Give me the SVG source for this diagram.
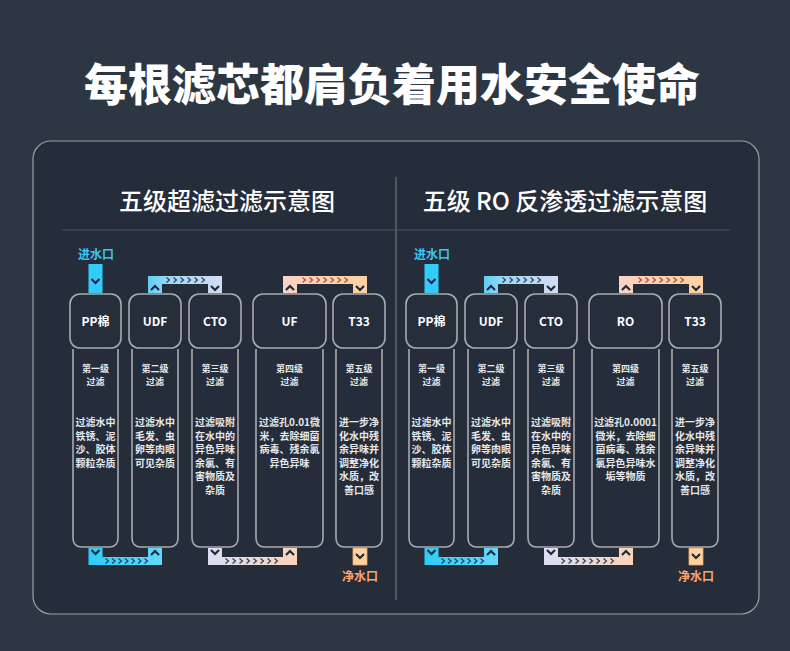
<svg xmlns="http://www.w3.org/2000/svg" width="790" height="651" viewBox="0 0 790 651">
<defs>
<style>
.t{font-family:"Noto Sans CJK SC","Noto Sans",sans-serif;fill:#ffffff;text-anchor:middle}
.title{font-size:44px;font-weight:900}
.sub{font-size:24px;font-weight:500}
.hd{font-size:12px;font-weight:700}
.lv{font-size:9px;font-weight:700;fill:#e6e8ec}
.ds{font-size:10px;font-weight:700;fill:#e6e8ec}
.head{fill:#252e3a;stroke:#a8abb0;stroke-width:1.6}
.body{fill:none;stroke:#a8abb0;stroke-width:1.6}
.chev{fill:none;stroke:#1f2b3d;stroke-width:2.2}
.bc{fill:none;stroke:#2a3558;stroke-width:1.1}
.rc{fill:none;stroke:#c0392b;stroke-width:1.1}
.in{font-family:"Noto Sans CJK SC",sans-serif;font-size:12px;font-weight:700;fill:#3cc6f5;text-anchor:middle}
.out{font-family:"Noto Sans CJK SC",sans-serif;font-size:12px;font-weight:700;fill:#ffa36b;text-anchor:middle}
</style>
<linearGradient id="gBlueLav" x1="0" x2="1" y1="0" y2="0"><stop offset="0" stop-color="#5fcdf7"/><stop offset="0.3" stop-color="#9fd9f7"/><stop offset="1" stop-color="#d6dcf1"/></linearGradient>
<linearGradient id="gPeach" x1="0" x2="1" y1="0" y2="0"><stop offset="0" stop-color="#fbd3c4"/><stop offset="1" stop-color="#fdd1a0"/></linearGradient>
<linearGradient id="gLavPeach" x1="0" x2="1" y1="0" y2="0"><stop offset="0" stop-color="#d9dff2"/><stop offset="1" stop-color="#fdd3b8"/></linearGradient>
<linearGradient id="gCyan" x1="0" x2="1" y1="0" y2="0"><stop offset="0" stop-color="#2ccdfb"/><stop offset="1" stop-color="#62d8fc"/></linearGradient>
<path id="dn" d="M-4,-2 L0,2 L4,-2"/>
<path id="up" d="M-4,2 L0,-2 L4,2"/>
<path id="ar" d="M-1.5,-2.5 L1.5,0 L-1.5,2.5"/>
</defs>
<rect width="790" height="651" fill="#2d3643"/>
<text class="t title" x="392" y="101">每根滤芯都肩负着用水安全使命</text>
<rect x="33" y="141" width="726" height="473" rx="18" fill="#242d39" stroke="#9aa0a8" stroke-width="1.2"/>
<line x1="396" y1="177" x2="396" y2="600" stroke="#7d838b" stroke-width="1"/>
<line x1="62" y1="230" x2="730" y2="230" stroke="#4e5762" stroke-width="1"/>
<text class="t sub" x="227" y="210">五级超滤过滤示意图</text>
<text class="t sub" x="565" y="210">五级 RO 反渗透过滤示意图</text>

<!-- LEFT NODES -->
<g id="l-pp"><path class="body" d="M73,349 V538 Q73,547 82,547 H109 Q118,547 118,538 V349"/><rect class="head" x="70" y="294" width="51" height="54" rx="10"/><text class="t hd" x="95.5" y="326">PP棉</text><text class="t lv" x="95.5" y="372">第一级</text><text class="t lv" x="95.5" y="385">过滤</text><text class="t ds" x="95.5" y="426">过滤水中</text><text class="t ds" x="95.5" y="439.5">铁锈、泥</text><text class="t ds" x="95.5" y="453">沙、胶体</text><text class="t ds" x="95.5" y="466.5">颗粒杂质</text></g>
<g id="l-udf"><path class="body" d="M132,349 V538 Q132,547 141,547 H169 Q178,547 178,538 V349"/><rect class="head" x="129" y="294" width="52" height="54" rx="10"/><text class="t hd" x="155" y="326">UDF</text><text class="t lv" x="155" y="372">第二级</text><text class="t lv" x="155" y="385">过滤</text><text class="t ds" x="155" y="426">过滤水中</text><text class="t ds" x="155" y="439.5">毛发、虫</text><text class="t ds" x="155" y="453">卵等肉眼</text><text class="t ds" x="155" y="466.5">可见杂质</text></g>
<g id="l-cto"><path class="body" d="M192,349 V538 Q192,547 201,547 H229 Q238,547 238,538 V349"/><rect class="head" x="189" y="294" width="52" height="54" rx="10"/><text class="t hd" x="215" y="326">CTO</text><text class="t lv" x="215" y="372">第三级</text><text class="t lv" x="215" y="385">过滤</text><text class="t ds" x="215" y="426">过滤吸附</text><text class="t ds" x="215" y="439.5">在水中的</text><text class="t ds" x="215" y="453">异色异味</text><text class="t ds" x="215" y="466.5">余氯、有</text><text class="t ds" x="215" y="480">害物质及</text><text class="t ds" x="215" y="493.5">杂质</text></g>
<g id="l-uf"><path class="body" d="M256,349 V538 Q256,547 265,547 H314 Q323,547 323,538 V349"/><rect class="head" x="253" y="294" width="73" height="54" rx="10"/><text class="t hd" x="289.5" y="326">UF</text><text class="t lv" x="289.5" y="372">第四级</text><text class="t lv" x="289.5" y="385">过滤</text><text class="t ds" x="289.5" y="426">过滤孔0.01微</text><text class="t ds" x="289.5" y="439.5">米，去除细菌</text><text class="t ds" x="289.5" y="453">病毒、残余氯</text><text class="t ds" x="289.5" y="466.5">异色异味</text></g>
<g id="l-t33"><path class="body" d="M336,349 V538 Q336,547 345,547 H373 Q382,547 382,538 V349"/><rect class="head" x="333" y="294" width="52" height="54" rx="10"/><text class="t hd" x="359" y="326">T33</text><text class="t lv" x="359" y="372">第五级</text><text class="t lv" x="359" y="385">过滤</text><text class="t ds" x="359" y="426">进一步净</text><text class="t ds" x="359" y="439.5">化水中残</text><text class="t ds" x="359" y="453">余异味并</text><text class="t ds" x="359" y="466.5">调整净化</text><text class="t ds" x="359" y="480">水质，改</text><text class="t ds" x="359" y="493.5">善口感</text></g>

<!-- RIGHT NODES -->
<g id="r-pp" transform="translate(336,0)"><path class="body" d="M73,349 V538 Q73,547 82,547 H109 Q118,547 118,538 V349"/><rect class="head" x="70" y="294" width="51" height="54" rx="10"/><text class="t hd" x="95.5" y="326">PP棉</text><text class="t lv" x="95.5" y="372">第一级</text><text class="t lv" x="95.5" y="385">过滤</text><text class="t ds" x="95.5" y="426">过滤水中</text><text class="t ds" x="95.5" y="439.5">铁锈、泥</text><text class="t ds" x="95.5" y="453">沙、胶体</text><text class="t ds" x="95.5" y="466.5">颗粒杂质</text></g>
<g id="r-udf" transform="translate(336,0)"><path class="body" d="M132,349 V538 Q132,547 141,547 H169 Q178,547 178,538 V349"/><rect class="head" x="129" y="294" width="52" height="54" rx="10"/><text class="t hd" x="155" y="326">UDF</text><text class="t lv" x="155" y="372">第二级</text><text class="t lv" x="155" y="385">过滤</text><text class="t ds" x="155" y="426">过滤水中</text><text class="t ds" x="155" y="439.5">毛发、虫</text><text class="t ds" x="155" y="453">卵等肉眼</text><text class="t ds" x="155" y="466.5">可见杂质</text></g>
<g id="r-cto" transform="translate(336,0)"><path class="body" d="M192,349 V538 Q192,547 201,547 H229 Q238,547 238,538 V349"/><rect class="head" x="189" y="294" width="52" height="54" rx="10"/><text class="t hd" x="215" y="326">CTO</text><text class="t lv" x="215" y="372">第三级</text><text class="t lv" x="215" y="385">过滤</text><text class="t ds" x="215" y="426">过滤吸附</text><text class="t ds" x="215" y="439.5">在水中的</text><text class="t ds" x="215" y="453">异色异味</text><text class="t ds" x="215" y="466.5">余氯、有</text><text class="t ds" x="215" y="480">害物质及</text><text class="t ds" x="215" y="493.5">杂质</text></g>
<g id="r-ro" transform="translate(336,0)"><path class="body" d="M256,349 V538 Q256,547 265,547 H314 Q323,547 323,538 V349"/><rect class="head" x="253" y="294" width="73" height="54" rx="10"/><text class="t hd" x="289.5" y="326">RO</text><text class="t lv" x="289.5" y="372">第四级</text><text class="t lv" x="289.5" y="385">过滤</text><text class="t ds" x="289.5" y="426">过滤孔0.0001</text><text class="t ds" x="289.5" y="439.5">微米，去除细</text><text class="t ds" x="289.5" y="453">菌病毒、残余</text><text class="t ds" x="289.5" y="466.5">氯异色异味水</text><text class="t ds" x="289.5" y="480">垢等物质</text></g>
<g id="r-t33" transform="translate(336,0)"><path class="body" d="M336,349 V538 Q336,547 345,547 H373 Q382,547 382,538 V349"/><rect class="head" x="333" y="294" width="52" height="54" rx="10"/><text class="t hd" x="359" y="326">T33</text><text class="t lv" x="359" y="372">第五级</text><text class="t lv" x="359" y="385">过滤</text><text class="t ds" x="359" y="426">进一步净</text><text class="t ds" x="359" y="439.5">化水中残</text><text class="t ds" x="359" y="453">余异味并</text><text class="t ds" x="359" y="466.5">调整净化</text><text class="t ds" x="359" y="480">水质，改</text><text class="t ds" x="359" y="493.5">善口感</text></g>

<!-- CONNECTORS -->
<g id="connectors">
<g id="conn-left">
<text class="in" x="96" y="259">进水口</text>
<rect x="88.5" y="264" width="14" height="29" fill="#33ccfa"/>
<use href="#dn" class="chev" x="95.5" y="281"/>
<path d="M148,293 V276 H222 V293 H208 V284 H162 V293 Z" fill="url(#gBlueLav)"/>
<use href="#up" class="chev" x="155" y="288"/><use href="#dn" class="chev" x="215" y="288"/>
<g class="bc"><use href="#ar" x="168" y="280"/><use href="#ar" x="175" y="280"/><use href="#ar" x="182" y="280"/><use href="#ar" x="189" y="280"/><use href="#ar" x="196" y="280"/><use href="#ar" x="203" y="280"/></g>
<path d="M283,293 V276 H367 V293 H353 V284 H297 V293 Z" fill="url(#gPeach)"/>
<use href="#up" class="chev" x="290" y="288"/><use href="#dn" class="chev" x="360" y="288"/>
<g class="rc"><use href="#ar" x="304" y="280"/><use href="#ar" x="311" y="280"/><use href="#ar" x="318" y="280"/><use href="#ar" x="325" y="280"/><use href="#ar" x="332" y="280"/><use href="#ar" x="339" y="280"/><use href="#ar" x="346" y="280"/></g>
<path d="M88.5,548 H102.5 V557 H148 V548 H162 V565 H88.5 Z" fill="url(#gCyan)"/>
<use href="#dn" class="chev" x="95.5" y="552"/><use href="#up" class="chev" x="155" y="553"/>
<g class="bc"><use href="#ar" x="107" y="561"/><use href="#ar" x="113.5" y="561"/><use href="#ar" x="120" y="561"/><use href="#ar" x="126.5" y="561"/><use href="#ar" x="133" y="561"/><use href="#ar" x="139.5" y="561"/><use href="#ar" x="146" y="561"/></g>
<path d="M208,548 H222 V557 H283 V548 H297 V565 H208 Z" fill="url(#gLavPeach)"/>
<use href="#dn" class="chev" x="215" y="552"/><use href="#up" class="chev" x="290" y="553"/>
<g class="bc"><use href="#ar" x="227" y="561"/><use href="#ar" x="234" y="561"/><use href="#ar" x="241" y="561"/><use href="#ar" x="248" y="561"/><use href="#ar" x="255" y="561"/><use href="#ar" x="262" y="561"/><use href="#ar" x="269" y="561"/><use href="#ar" x="276" y="561"/></g>
<rect x="353" y="548" width="14" height="17" fill="#fdd29e" stroke="#f5a468" stroke-width="0.8"/>
<use href="#dn" class="chev" x="360" y="556"/>
<text class="out" x="360" y="581">净水口</text>
</g>
<g id="conn-right" transform="translate(336,0)">
<text class="in" x="96" y="259">进水口</text>
<rect x="88.5" y="264" width="14" height="29" fill="#33ccfa"/>
<use href="#dn" class="chev" x="95.5" y="281"/>
<path d="M148,293 V276 H222 V293 H208 V284 H162 V293 Z" fill="url(#gBlueLav)"/>
<use href="#up" class="chev" x="155" y="288"/><use href="#dn" class="chev" x="215" y="288"/>
<g class="bc"><use href="#ar" x="168" y="280"/><use href="#ar" x="175" y="280"/><use href="#ar" x="182" y="280"/><use href="#ar" x="189" y="280"/><use href="#ar" x="196" y="280"/><use href="#ar" x="203" y="280"/></g>
<path d="M283,293 V276 H367 V293 H353 V284 H297 V293 Z" fill="url(#gPeach)"/>
<use href="#up" class="chev" x="290" y="288"/><use href="#dn" class="chev" x="360" y="288"/>
<g class="rc"><use href="#ar" x="304" y="280"/><use href="#ar" x="311" y="280"/><use href="#ar" x="318" y="280"/><use href="#ar" x="325" y="280"/><use href="#ar" x="332" y="280"/><use href="#ar" x="339" y="280"/><use href="#ar" x="346" y="280"/></g>
<path d="M88.5,548 H102.5 V557 H148 V548 H162 V565 H88.5 Z" fill="url(#gCyan)"/>
<use href="#dn" class="chev" x="95.5" y="552"/><use href="#up" class="chev" x="155" y="553"/>
<g class="bc"><use href="#ar" x="107" y="561"/><use href="#ar" x="113.5" y="561"/><use href="#ar" x="120" y="561"/><use href="#ar" x="126.5" y="561"/><use href="#ar" x="133" y="561"/><use href="#ar" x="139.5" y="561"/><use href="#ar" x="146" y="561"/></g>
<path d="M208,548 H222 V557 H283 V548 H297 V565 H208 Z" fill="url(#gLavPeach)"/>
<use href="#dn" class="chev" x="215" y="552"/><use href="#up" class="chev" x="290" y="553"/>
<g class="bc"><use href="#ar" x="227" y="561"/><use href="#ar" x="234" y="561"/><use href="#ar" x="241" y="561"/><use href="#ar" x="248" y="561"/><use href="#ar" x="255" y="561"/><use href="#ar" x="262" y="561"/><use href="#ar" x="269" y="561"/><use href="#ar" x="276" y="561"/></g>
<rect x="353" y="548" width="14" height="17" fill="#fdd29e" stroke="#f5a468" stroke-width="0.8"/>
<use href="#dn" class="chev" x="360" y="556"/>
<text class="out" x="360" y="581">净水口</text>
</g>
</g>
</svg>
